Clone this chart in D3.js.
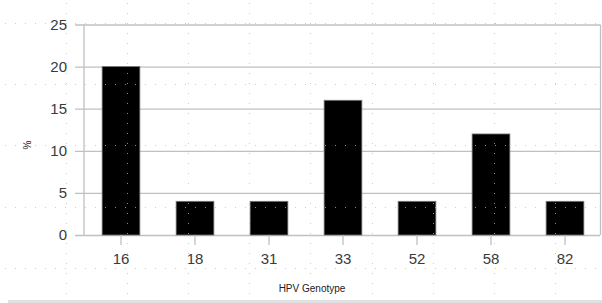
<!DOCTYPE html>
<html><head><meta charset="utf-8">
<script src="https://cdn.jsdelivr.net/npm/d3@7"></script>
<style>body{margin:0;background:#fff}svg{display:block}</style>
</head><body>
<svg id="c" width="602" height="303"></svg>
<script>
const categories = ["16","18","31","33","52","58","82"];
const values = [20,4,4,16,4,12,4];
const yTicks = [0,5,10,15,20,25];
const xTitle = "HPV Genotype";
const yTitle = "%";

const svg = d3.select("#c");
const W = 602, H = 303;
const m = {l:84, r:0, t:24.5, b:68};
const x = d3.scaleBand().domain(categories).range([m.l, W - m.r]).paddingInner(0.49).paddingOuter(0.245);
const y = d3.scaleLinear().domain([0,25]).range([H - m.b, m.t]);

// bottom strip
svg.append("rect").attr("x",8).attr("y",300).attr("width",W-8).attr("height",3).attr("fill","#e0e0e0");

// horizontal gridlines + left ticks
const yAxis = d3.axisLeft(y).tickValues(yTicks).tickSize(-(600 - 75)).tickPadding(8).tickFormat(d3.format("d"));
const gy = svg.append("g").attr("transform",`translate(75,0)`).call(yAxis);
gy.select(".domain").remove();
gy.selectAll(".tick line").attr("stroke","#c0c0c0").attr("stroke-width",1.3)
  .attr("x1",0).attr("x2",600-75);
gy.selectAll(".tick text").attr("fill","#3a3a3a").style("font-family","Liberation Sans, Arial, sans-serif").style("font-size","15px").attr("x",-8);

// left axis line and right border
svg.append("line").attr("x1",m.l).attr("x2",m.l).attr("y1",m.t).attr("y2",y(0)).attr("stroke","#c0c0c0").attr("stroke-width",1.3);
svg.append("line").attr("x1",600.5).attr("x2",600.5).attr("y1",m.t).attr("y2",y(0)).attr("stroke","#c0c0c0").attr("stroke-width",1.3);

// bars
svg.append("g").selectAll("rect").data(values).join("rect")
  .attr("x",(d,i)=>x(categories[i]))
  .attr("y",d=>y(d))
  .attr("width",x.bandwidth())
  .attr("height",d=>y(0)-y(d))
  .attr("fill","#000").attr("stroke","#777").attr("stroke-width",0.8);

// x axis ticks
const xAxis = d3.axisBottom(x).tickSize(10).tickPadding(8);
const gx = svg.append("g").attr("transform",`translate(0,${y(0)})`).call(xAxis);
gx.select(".domain").remove();
gx.selectAll(".tick line").attr("stroke","#c0c0c0").attr("stroke-width",1.3);
gx.selectAll(".tick text").attr("fill","#3a3a3a").style("font-family","Liberation Sans, Arial, sans-serif").style("font-size","15px");

// titles
svg.append("text").attr("x",(m.l+600)/2 - 30).attr("y",292).attr("text-anchor","middle")
  .style("font-family","Liberation Sans, Arial, sans-serif").style("font-size","10px").attr("fill","#222").text(xTitle);
svg.append("text").attr("transform","translate(31,145) rotate(-90)").attr("text-anchor","middle")
  .style("font-family","Liberation Sans, Arial, sans-serif").style("font-size","10px").attr("fill","#222").text(yTitle);

// decorative dotted overlay grid
const ov = svg.append("g").attr("fill","#bbb").attr("fill-opacity",0.75);
const vx = d3.range(66, 602, 61.1);
const hy = d3.range(22.7, 303, 61.3);
vx.forEach(vxx => d3.range(3, 303, 10).forEach(yy => ov.append("rect").attr("x",Math.round(vxx)).attr("y",yy).attr("width",1).attr("height",1)));
hy.forEach(hyy => d3.range(5, 602, 10).forEach(xx => ov.append("rect").attr("x",xx).attr("y",Math.round(hyy)).attr("width",1).attr("height",1)));
</script>
</body></html>
